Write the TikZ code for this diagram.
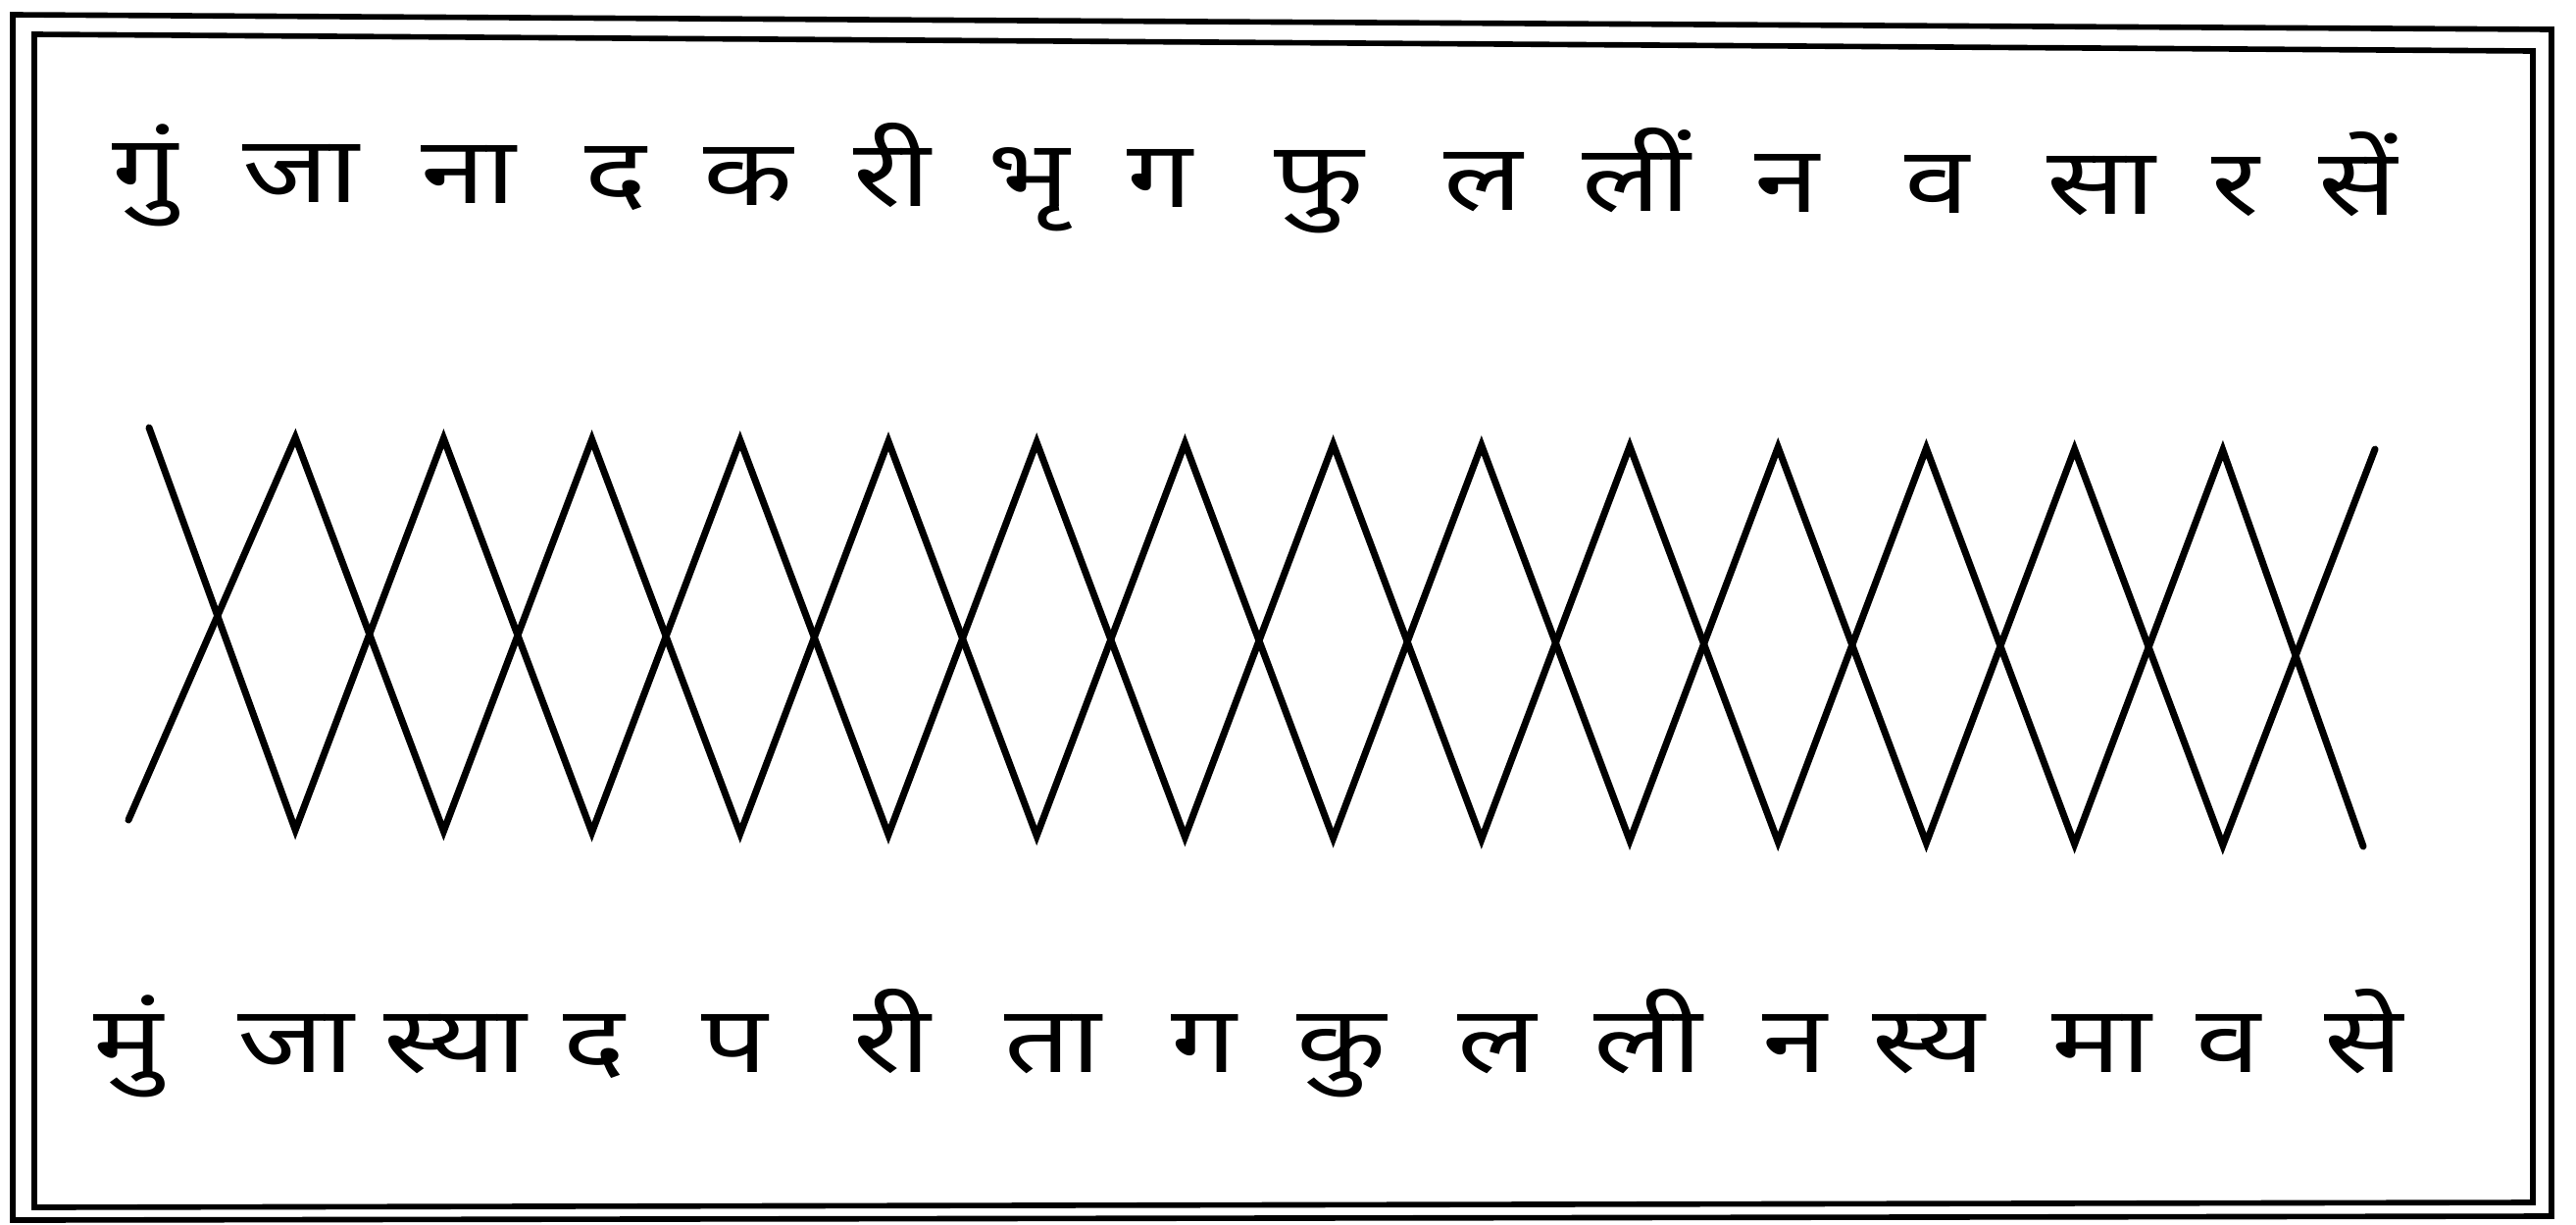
\documentclass[tikz,border=0pt]{standalone}
\usepackage{fontspec}
\newfontfamily\devfont[Script=Devanagari,FakeStretch=1.25]{Noto Sans}
\usetikzlibrary{calc}

\begin{document}
\begin{tikzpicture}[
    x=0.01cm, y=-0.01cm,
    every node/.style={font=\devfont\fontsize{27}{32}\selectfont},
    syl/.style={anchor=base, inner sep=0pt},
    border/.style={line width=1.6pt, line join=miter},
    zig/.style={line width=2pt, line join=miter, line cap=round}
]
\useasboundingbox (0,0) rectangle (2627,1248);

% double frame
\draw[border] (13,15) -- (2602,30) -- (2602,1240) -- (13,1244) -- cycle;
\draw[border] (35,35) -- (2583,52) -- (2583,1226) -- (35,1231) -- cycle;

% upper row
\foreach \sx/\st [count=\i] in {148/गुं, 307/जा, 478/ना, 628/द, 763/क,
    910/री, 1049/भृ, 1183/ग, 1345/फु, 1513/ल, 1669/लीं, 1822/न,
    1975/व, 2143/सा, 2280/र, 2405/सें}
  \node[syl] (up\i) at (\sx, {205+(\sx-148)*0.0066}) {\st};

% lower row
\foreach \sx/\st [count=\i] in {131/मुं, 302/जा, 464/स्या, 606/द, 749/प,
    910/री, 1074/ता, 1228/ग, 1368/कु, 1527/ल, 1681/ली, 1830/न,
    1967/स्य, 2143/मा, 2272/व, 2411/से}
  \node[syl] (lw\i) at (\sx, 1093) {\st};

% zigzag points
\foreach \i in {0,...,15} {
  \pgfmathsetmacro\zx{150+151.2*\i}
  \coordinate (a\i) at (\zx, {445+\i+mod(\i,2)*(400+0.2*\i)});
  \coordinate (b\i) at (\zx, {845+1.2*\i-mod(\i,2)*(400+0.2*\i)});
}
\coordinate (a0) at (152,436);
\coordinate (b0) at (131,836);
\coordinate (a15) at (2410,863);
\coordinate (b15) at (2422,458);

\draw[zig] (a0) \foreach \i in {1,...,15} {-- (a\i)};
\draw[zig] (b0) \foreach \i in {1,...,15} {-- (b\i)};

\end{tikzpicture}
\end{document}
